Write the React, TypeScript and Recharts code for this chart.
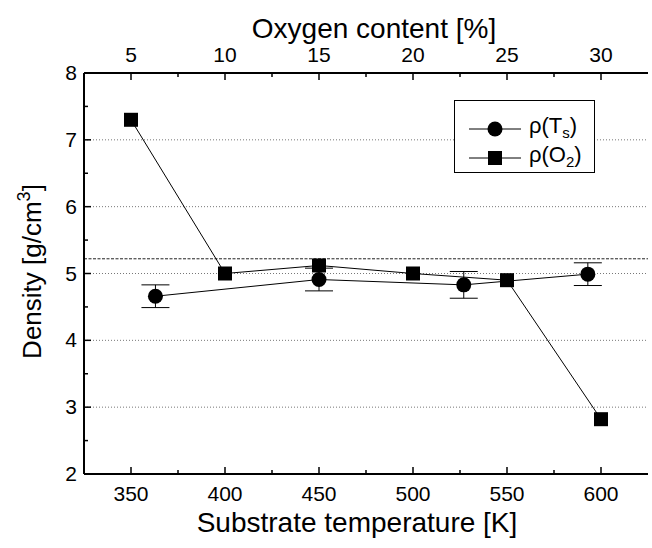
import React from 'react';
import { ComposedChart, Scatter, XAxis, YAxis, ErrorBar, ReferenceLine } from 'recharts';

// Density vs substrate temperature (circles, bottom axis)
const substrateTempK = [363, 450, 527, 593];
const densityVsTemp = [4.66, 4.91, 4.83, 4.99];
const densityVsTempErr = [0.17, 0.17, 0.2, 0.17];

// Density vs oxygen content (squares, top axis)
const oxygenPct = [5, 10, 15, 20, 25, 30];
const densityVsOxygen = [7.3, 5.0, 5.12, 5.0, 4.9, 2.82];

// Axis ticks (major + minor)
const tempTicks = [350, 375, 400, 425, 450, 475, 500, 525, 550, 575, 600];
const tempMajor = [350, 400, 450, 500, 550, 600];
const oxygenTicks = [5, 7.5, 10, 12.5, 15, 17.5, 20, 22.5, 25, 27.5, 30];
const oxygenMajor = [5, 10, 15, 20, 25, 30];
const densityTicks = [2, 2.5, 3, 3.5, 4, 4.5, 5, 5.5, 6, 6.5, 7, 7.5, 8];
const densityMajor = [2, 3, 4, 5, 6, 7, 8];
const gridValues = [3, 4, 5, 6, 7];
const referenceDensity = 5.22;

const tempData = substrateTempK.map((t, i) => ({ t, rho: densityVsTemp[i], err: densityVsTempErr[i] }));
const oxyData = oxygenPct.map((o, i) => ({ o, rho: densityVsOxygen[i] }));

const FONT = '"Liberation Sans", Arial, Helvetica, sans-serif';

const BottomTick = (props: any) => {
  const { x, y, payload } = props;
  const major = tempMajor.includes(payload.value);
  return (
    <g>
      <line x1={x} x2={x} y1={y} y2={y - (major ? 7 : 4)} stroke="#000" strokeWidth={1.5} />
      {major && (
        <text x={x} y={y + 27} textAnchor="middle" fontSize={21} fontFamily={FONT} fill="#000">
          {payload.value}
        </text>
      )}
    </g>
  );
};

const TopTick = (props: any) => {
  const { x, y, payload } = props;
  const major = oxygenMajor.includes(payload.value);
  return (
    <g>
      <line x1={x} x2={x} y1={y} y2={y + (major ? 7 : 4)} stroke="#000" strokeWidth={1.5} />
      {major && (
        <text x={x} y={y - 11} textAnchor="middle" fontSize={21} fontFamily={FONT} fill="#000">
          {payload.value}
        </text>
      )}
    </g>
  );
};

const LeftTick = (props: any) => {
  const { x, y, payload } = props;
  const major = densityMajor.includes(payload.value);
  return (
    <g>
      <line x1={x} x2={x + (major ? 7 : 4)} y1={y} y2={y} stroke="#000" strokeWidth={1.5} />
      {major && (
        <text x={x - 7} y={y + 7} textAnchor="end" fontSize={21} fontFamily={FONT} fill="#000">
          {payload.value}
        </text>
      )}
    </g>
  );
};

const BottomTitle = (props: any) => {
  const vb = props.viewBox || { x: 84, y: 474, width: 564, height: 74 };
  return (
    <text x={vb.x + vb.width / 2 - 9} y={vb.y + 58} textAnchor="middle" fontSize={28} fontFamily={FONT} fill="#000">
      Substrate temperature [K]
    </text>
  );
};

const TopTitle = (props: any) => {
  const vb = props.viewBox || { x: 84, y: 0, width: 564, height: 73 };
  return (
    <text x={vb.x + vb.width / 2 + 8} y={vb.y + 38} textAnchor="middle" fontSize={28} fontFamily={FONT} fill="#000">
      Oxygen content [%]
    </text>
  );
};

const LeftTitle = (props: any) => {
  const vb = props.viewBox || { x: 0, y: 73, width: 84, height: 401 };
  const cx = 41;
  const cy = vb.y + vb.height / 2 - 2;
  return (
    <text
      x={cx}
      y={cy}
      transform={`rotate(-90 ${cx} ${cy})`}
      textAnchor="middle"
      fontSize={26}
      fontFamily={FONT}
      fill="#000"
    >
      Density [g/cm<tspan dy={-11} fontSize={18}>3</tspan>
      <tspan dy={11}>]</tspan>
    </text>
  );
};

const CircleShape = (props: any) => <circle cx={props.cx} cy={props.cy} r={7.5} fill="#000" />;
const SquareShape = (props: any) => (
  <rect x={props.cx - 7} y={props.cy - 7} width={14} height={14} fill="#000" />
);

const LegendBox = () => (
  <div
    style={{
      position: 'absolute',
      left: 454,
      top: 100,
      width: 141,
      height: 73,
      boxSizing: 'border-box',
      border: '1.5px solid #000',
      background: '#fff',
      fontFamily: FONT,
      fontSize: 22,
      color: '#000',
    }}
  >
    <div style={{ position: 'absolute', left: 12, top: 16, display: 'flex', alignItems: 'center', height: 24 }}>
      <svg width={56} height={20} style={{ display: 'block' }}>
        <line x1={2} x2={54} y1={10} y2={10} stroke="#000" strokeWidth={1} />
        <circle cx={28} cy={10} r={7.5} fill="#000" />
      </svg>
      <span style={{ marginLeft: 6, lineHeight: '24px' }}>
        ρ(T<sub style={{ fontSize: 15, verticalAlign: -5 }}>s</sub>)
      </span>
    </div>
    <div style={{ position: 'absolute', left: 12, top: 45, display: 'flex', alignItems: 'center', height: 24 }}>
      <svg width={56} height={20} style={{ display: 'block' }}>
        <line x1={2} x2={54} y1={10} y2={10} stroke="#000" strokeWidth={1} />
        <rect x={21} y={3} width={14} height={14} fill="#000" />
      </svg>
      <span style={{ marginLeft: 6, lineHeight: '24px' }}>
        ρ(O<sub style={{ fontSize: 15, verticalAlign: -5 }}>2</sub>)
      </span>
    </div>
  </div>
);

export default function App() {
  return (
    <div style={{ position: 'absolute', left: 0, top: 0, width: 652, height: 548, background: '#fff' }}>
      <ComposedChart width={652} height={548} margin={{ top: 0, right: 4, bottom: 0, left: 0 }}>
        <XAxis
          xAxisId="temp"
          dataKey="t"
          type="number"
          orientation="bottom"
          domain={[325, 625]}
          ticks={tempTicks}
          interval={0}
          allowDataOverflow
          height={74}
          tickSize={0}
          tickMargin={0}
          tickLine={false}
          axisLine={{ stroke: '#000', strokeWidth: 2 }}
          tick={<BottomTick />}
          label={<BottomTitle />}
        />
        <XAxis
          xAxisId="oxy"
          dataKey="o"
          type="number"
          orientation="top"
          domain={[2.5, 32.5]}
          ticks={oxygenTicks}
          interval={0}
          allowDataOverflow
          height={73}
          tickSize={0}
          tickMargin={0}
          tickLine={false}
          axisLine={{ stroke: '#000', strokeWidth: 2 }}
          tick={<TopTick />}
          label={<TopTitle />}
        />
        <YAxis
          yAxisId="rho"
          dataKey="rho"
          type="number"
          domain={[2, 8]}
          ticks={densityTicks}
          interval={0}
          allowDataOverflow
          width={84}
          tickSize={0}
          tickMargin={0}
          tickLine={false}
          axisLine={{ stroke: '#000', strokeWidth: 2 }}
          tick={<LeftTick />}
          label={<LeftTitle />}
        />
        <YAxis
          yAxisId="rhoRight"
          orientation="right"
          type="number"
          domain={[2, 8]}
          width={0}
          tick={false}
          tickLine={false}
          axisLine={{ stroke: '#000', strokeWidth: 2 }}
        />
        {gridValues.map((v) => (
          <ReferenceLine
            key={v}
            y={v}
            yAxisId="rho"
            xAxisId="temp"
            stroke="#777"
            strokeWidth={1}
            strokeDasharray="1 2"
          />
        ))}
        <ReferenceLine
          y={referenceDensity}
          yAxisId="rho"
          xAxisId="temp"
          stroke="#222"
          strokeWidth={1}
          strokeDasharray="3 1.5"
        />
        <Scatter
          name="rhoT"
          data={tempData}
          dataKey="rho"
          xAxisId="temp"
          yAxisId="rho"
          fill="#000"
          line={{ stroke: '#000', strokeWidth: 1 }}
          lineType="joint"
          shape={<CircleShape />}
          isAnimationActive={false}
        >
          <ErrorBar dataKey="err" direction="y" width={14} stroke="#000" strokeWidth={1} />
        </Scatter>
        <Scatter
          name="rhoO"
          data={oxyData}
          dataKey="rho"
          xAxisId="oxy"
          yAxisId="rho"
          fill="#000"
          line={{ stroke: '#000', strokeWidth: 1 }}
          lineType="joint"
          shape={<SquareShape />}
          isAnimationActive={false}
        />
      </ComposedChart>
      <LegendBox />
    </div>
  );
}
